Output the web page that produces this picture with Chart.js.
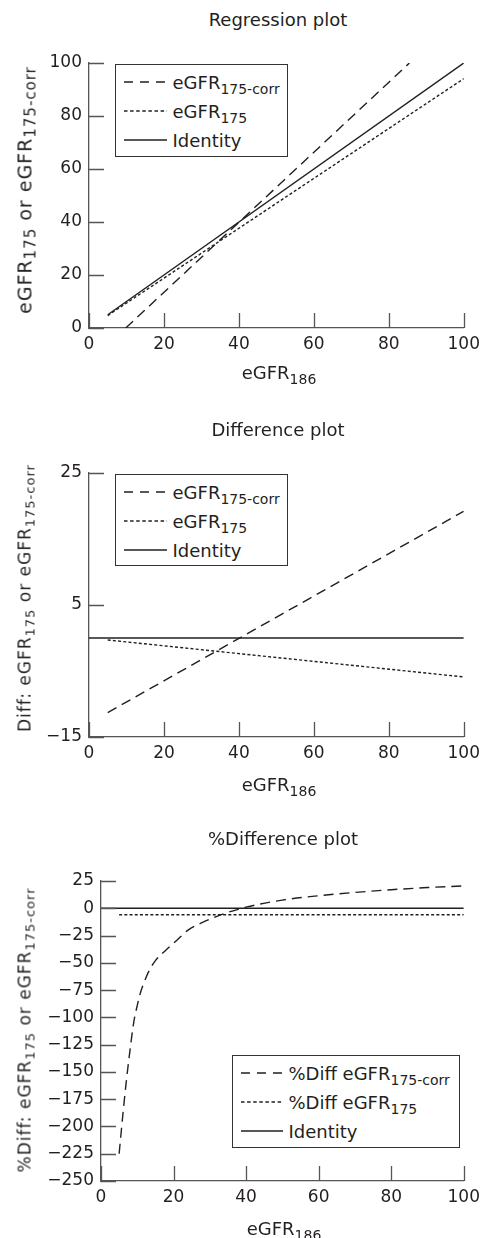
<!DOCTYPE html>
<html>
<head>
<meta charset="utf-8">
<script src="https://cdn.jsdelivr.net/npm/chart.js@4.4.1/dist/chart.umd.min.js"></script>
<style>
  body { margin: 0; background: #fff; width: 486px; height: 1238px; position: relative; overflow: hidden;
         font-family: "DejaVu Sans", sans-serif; color: #231f20; }
  .panel { position: absolute; left: 0; width: 486px; }
  .panel canvas { position: absolute; left: 0; top: 0; }
  .txt { position: absolute; white-space: nowrap; font-size: 18px; line-height: 18px; transform: translateX(-50%); }
  .ytitle { position: absolute; white-space: nowrap; letter-spacing: 1px; transform: translate(-50%, -50%) rotate(-90deg); }
  sub { font-size: 14px; vertical-align: baseline; position: relative; top: 5px; line-height: 0; }
  .ytitle sub { top: 4px; }
  .legend { position: absolute; box-sizing: border-box; border: 1.5px solid #333; background: #fff; padding-top: 2.5px; }
  .legend .row { display: flex; align-items: center; height: 29px; font-size: 18px; line-height: 29px; white-space: nowrap; }
  .legend svg { display: block; margin-left: 7.5px; margin-right: 6px; }
</style>
</head>
<body>

<div class="txt" style="left:278px;top:11px">Regression plot</div>
<div class="panel" style="top:0;height:395px"><canvas id="c1" width="486" height="395"></canvas></div>
<div class="ytitle" style="left:24.5px;top:190px;font-size:19px;line-height:19px">eGFR<sub style="font-size:15px">175</sub> or eGFR<sub style="font-size:15px">175-corr</sub></div>
<div class="txt" style="left:279px;top:364px">eGFR<sub>186</sub></div>
<div class="legend" style="left:115px;top:64px;width:173px;height:93px">
  <div class="row"><svg width="43" height="4"><line x1="0" y1="2" x2="43" y2="2" stroke="#231f20" stroke-width="1.4" stroke-dasharray="9 7"/></svg><span>eGFR<sub>175-corr</sub></span></div>
  <div class="row"><svg width="43" height="4"><line x1="0" y1="2" x2="43" y2="2" stroke="#231f20" stroke-width="1.4" stroke-dasharray="3.5 2.6"/></svg><span>eGFR<sub>175</sub></span></div>
  <div class="row"><svg width="43" height="4"><line x1="0" y1="2" x2="43" y2="2" stroke="#231f20" stroke-width="1.4"/></svg><span>Identity</span></div>
</div>

<div class="txt" style="left:278px;top:420.5px">Difference plot</div>
<div class="panel" style="top:400px;height:410px"><canvas id="c2" width="486" height="410"></canvas></div>
<div class="ytitle" style="left:25px;top:598px;font-size:17px;line-height:17px">Diff: eGFR<sub style="font-size:13px">175</sub> or eGFR<sub style="font-size:13px">175-corr</sub></div>
<div class="txt" style="left:279px;top:775.5px">eGFR<sub>186</sub></div>
<div class="legend" style="left:115px;top:474px;width:173px;height:92px">
  <div class="row"><svg width="43" height="4"><line x1="0" y1="2" x2="43" y2="2" stroke="#231f20" stroke-width="1.4" stroke-dasharray="9 7"/></svg><span>eGFR<sub>175-corr</sub></span></div>
  <div class="row"><svg width="43" height="4"><line x1="0" y1="2" x2="43" y2="2" stroke="#231f20" stroke-width="1.4" stroke-dasharray="3.5 2.6"/></svg><span>eGFR<sub>175</sub></span></div>
  <div class="row"><svg width="43" height="4"><line x1="0" y1="2" x2="43" y2="2" stroke="#231f20" stroke-width="1.4"/></svg><span>Identity</span></div>
</div>

<div class="txt" style="left:283px;top:830px">%Difference plot</div>
<div class="panel" style="top:820px;height:418px"><canvas id="c3" width="486" height="418"></canvas></div>
<div class="ytitle" style="left:25px;top:1030px;font-size:17px;line-height:17px">%Diff: eGFR<sub style="font-size:13px">175</sub> or eGFR<sub style="font-size:13px">175-corr</sub></div>
<div class="txt" style="left:284px;top:1220px">eGFR<sub>186</sub></div>
<div class="legend" style="left:232px;top:1055px;width:228px;height:93px">
  <div class="row"><svg width="42" height="4"><line x1="0" y1="2" x2="42" y2="2" stroke="#231f20" stroke-width="1.4" stroke-dasharray="9 7"/></svg><span>%Diff eGFR<sub>175-corr</sub></span></div>
  <div class="row"><svg width="42" height="4"><line x1="0" y1="2" x2="42" y2="2" stroke="#231f20" stroke-width="1.4" stroke-dasharray="3.5 2.6"/></svg><span>%Diff eGFR<sub>175</sub></span></div>
  <div class="row"><svg width="42" height="4"><line x1="0" y1="2" x2="42" y2="2" stroke="#231f20" stroke-width="1.4"/></svg><span>Identity</span></div>
</div>

<script>
// tick labels
const xTicks = [0, 20, 40, 60, 80, 100];
const regTicks = [0, 20, 40, 60, 80, 100];
const diffTicks = [-15, 5, 25];
const pctTicks = [-250, -225, -200, -175, -150, -125, -100, -75, -50, -25, 0, 25];

// Regression plot
const regCorrX = [9.8, 85.5];
const regCorrY = [0, 100];
const reg175X = [5, 100];
const reg175Y = [4.7, 94.1];
const regIdX = [5, 100];
const regIdY = [5, 100];

// Difference plot
const diffCorrX = [5, 100];
const diffCorrY = [-11.3, 19.2];
const diff175X = [5, 100];
const diff175Y = [-0.3, -5.9];
const diffIdX = [0, 100];
const diffIdY = [0, 0];

// %Difference plot
const pctCorrX = [5, 6, 7, 8, 9, 10, 11, 12, 13, 15, 18, 21, 24, 28, 33, 40, 50, 60, 70, 80, 90, 100];
const pctCorrY = [-225, -190, -158, -130, -105, -89, -76, -67, -59, -48, -38, -29, -20, -13, -6, 1, 7.5, 11.5, 14.5, 17, 19, 20.5];
const pct175X = [5, 100];
const pct175Y = [-5.9, -5.9];
const pctIdX = [0, 100];
const pctIdY = [0, 0];

const ink = '#231f20';
const axisCol = '#555';
Chart.defaults.font.family = '"DejaVu Sans", sans-serif';
Chart.defaults.color = ink;

const pts = (xs, ys) => xs.map((x, i) => ({ x: x, y: ys[i] }));

const innerTicks = {
  id: 'innerTicks',
  afterDraw(chart) {
    const { ctx, chartArea, scales } = chart;
    ctx.save();
    ctx.strokeStyle = axisCol;
    ctx.lineWidth = 1.3;
    ctx.beginPath();
    scales.x.ticks.forEach(t => {
      const px = Math.round(scales.x.getPixelForValue(t.value)) + 0.5;
      ctx.moveTo(px, chartArea.bottom);
      ctx.lineTo(px, chartArea.bottom - 15);
    });
    scales.y.ticks.forEach(t => {
      const py = Math.round(scales.y.getPixelForValue(t.value)) + 0.5;
      ctx.moveTo(chartArea.left, py);
      ctx.lineTo(chartArea.left + 15, py);
    });
    ctx.stroke();
    ctx.restore();
  }
};

function series(xs, ys, dash) {
  return {
    data: pts(xs, ys),
    borderColor: ink,
    borderWidth: 1.4,
    borderDash: dash,
    pointRadius: 0,
    fill: false,
    cubicInterpolationMode: 'monotone'
  };
}

function makeChart(id, datasets, yTicks, pad, yWidth) {
  const tickFont = { size: 17 };
  return new Chart(document.getElementById(id), {
    type: 'line',
    data: { datasets: datasets },
    options: {
      responsive: false,
      animation: false,
      devicePixelRatio: 1,
      layout: { padding: { top: pad.top, right: 19, bottom: pad.bottom, left: 0 } },
      plugins: { legend: { display: false }, tooltip: { enabled: false } },
      scales: {
        x: {
          type: 'linear', min: 0, max: 100,
          afterBuildTicks: s => { s.ticks = xTicks.map(v => ({ value: v })); },
          afterFit: s => { s.height = 30; },
          ticks: { font: tickFont, padding: 6, color: ink, maxRotation: 0 },
          grid: { drawOnChartArea: false, drawTicks: false },
          border: { color: axisCol, width: 1.3 }
        },
        y: {
          type: 'linear', min: yTicks[0], max: yTicks[yTicks.length - 1],
          afterBuildTicks: s => { s.ticks = yTicks.map(v => ({ value: v })); },
          afterFit: s => { s.width = yWidth; },
          ticks: { font: tickFont, padding: 7, color: ink,
                   callback: v => v < 0 ? '\u2212' + Math.abs(v) : String(v) },
          grid: { drawOnChartArea: false, drawTicks: false },
          border: { color: axisCol, width: 1.3 }
        }
      }
    },
    plugins: [innerTicks]
  });
}

makeChart('c1', [
  series(regCorrX, regCorrY, [10, 6]),
  series(reg175X, reg175Y, [3, 2.2]),
  series(regIdX, regIdY, [])
], regTicks, { top: 63, bottom: 37 }, 89);

makeChart('c2', [
  series(diffCorrX, diffCorrY, [10, 6]),
  series(diff175X, diff175Y, [3, 2.2]),
  series(diffIdX, diffIdY, [])
], diffTicks, { top: 73, bottom: 43 }, 89);

makeChart('c3', [
  series(pctCorrX, pctCorrY, [10, 6]),
  series(pct175X, pct175Y, [3, 2.2]),
  series(pctIdX, pctIdY, [])
], pctTicks, { top: 61, bottom: 27 }, 101);
</script>
</body>
</html>
